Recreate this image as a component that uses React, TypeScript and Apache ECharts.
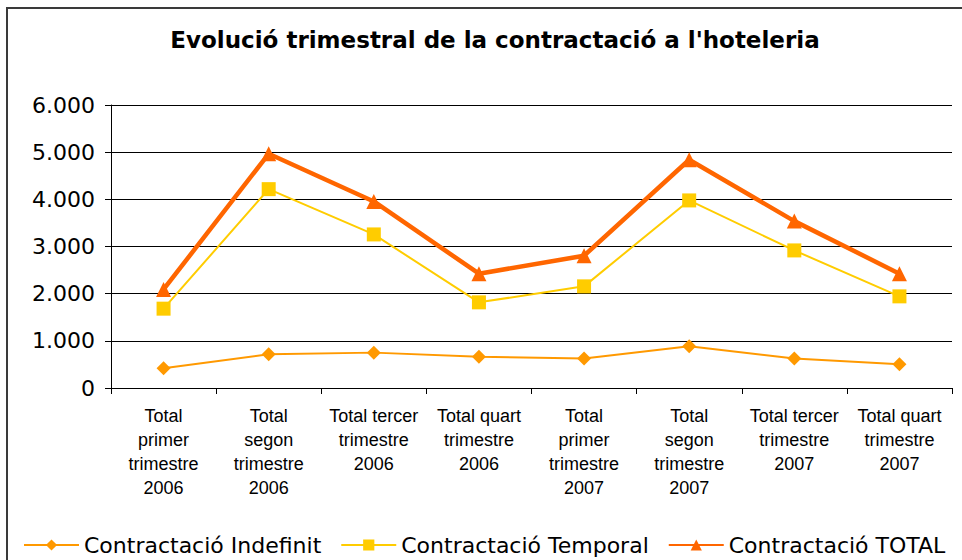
import React, { useEffect, useRef } from "react";
import * as echarts from "echarts";

const categories = [
  "Total\nprimer\ntrimestre\n2006",
  "Total\nsegon\ntrimestre\n2006",
  "Total tercer\ntrimestre\n2006",
  "Total quart\ntrimestre\n2006",
  "Total\nprimer\ntrimestre\n2007",
  "Total\nsegon\ntrimestre\n2007",
  "Total tercer\ntrimestre\n2007",
  "Total quart\ntrimestre\n2007",
];
const indefinit = [417, 714, 750, 665, 623, 883, 623, 502];
const temporal = [1682, 4216, 3256, 1816, 2155, 3977, 2917, 1943];
const total = [2090, 4966, 3955, 2424, 2805, 4839, 3538, 2424];
const seriesNames = ["Contractació Indefinit", "Contractació Temporal", "Contractació TOTAL"];
const titleText = "Evolució trimestral de la contractació a l'hoteleria";

export default function App() {
  const ref = useRef<HTMLDivElement>(null);
  useEffect(() => {
    if (!ref.current) return;
    const chart = echarts.init(ref.current, null, { renderer: "svg" });
    const fmt = (v: number) => String(v).replace(/\B(?=(\d{3})+(?!\d))/g, ".");
    chart.setOption({
      animation: false,
      backgroundColor: "#ffffff",
      title: {
        text: titleText,
        left: 490,
        textAlign: "center",
        top: 23,
        textStyle: { fontFamily: "DejaVu Sans", fontWeight: "bold", fontSize: 23, color: "#000" },
      },
      graphic: [
        {
          type: "rect",
          shape: { x: 7, y: 8, width: 1000, height: 600 },
          style: { fill: "none", stroke: "#3a3a3a", lineWidth: 2 },
          silent: true,
          z: -1,
        },
      ],
      legend: {
        left: 18,
        top: 529,
        itemWidth: 55,
        itemHeight: 14,
        itemGap: 19,
        textStyle: { fontFamily: "DejaVu Sans", fontSize: 22, color: "#000" },
        data: seriesNames,
      },
      grid: { left: 111, right: 10, top: 105, bottom: 172, containLabel: false },
      xAxis: {
        type: "category",
        data: categories,
        boundaryGap: true,
        axisLine: { show: true, lineStyle: { color: "#000", width: 1 } },
        axisTick: { show: true, length: 6, lineStyle: { color: "#000" } },
        axisLabel: {
          interval: 0,
          margin: 16,
          fontFamily: "Liberation Sans",
          fontSize: 18,
          lineHeight: 24,
          color: "#000",
          align: "center",
        },
      },
      yAxis: {
        type: "value",
        min: 0,
        max: 6000,
        interval: 1000,
        axisLine: { show: true, lineStyle: { color: "#000", width: 1 } },
        axisTick: { show: true, length: 6, lineStyle: { color: "#000" } },
        axisLabel: {
          margin: 16,
          fontFamily: "DejaVu Sans",
          fontSize: 22,
          color: "#000",
          formatter: (v: number) => fmt(v),
        },
        splitLine: { show: true, lineStyle: { color: "#000", width: 1 } },
      },
      series: [
        {
          name: seriesNames[0],
          type: "line",
          data: indefinit,
          symbol: "diamond",
          symbolSize: 14,
          itemStyle: { color: "#FF9900" },
          lineStyle: { color: "#FF9900", width: 2 },
          z: 2,
        },
        {
          name: seriesNames[1],
          type: "line",
          data: temporal,
          symbol: "rect",
          symbolSize: 14,
          itemStyle: { color: "#FFCC00" },
          lineStyle: { color: "#FFCC00", width: 2 },
          z: 3,
        },
        {
          name: seriesNames[2],
          type: "line",
          data: total,
          symbol: "triangle",
          symbolSize: 15,
          itemStyle: { color: "#FF6600" },
          lineStyle: { color: "#FF6600", width: 4.5 },
          z: 4,
        },
      ],
    });
    return () => chart.dispose();
  }, []);
  return <div ref={ref} style={{ width: 962, height: 560, position: "absolute", left: 0, top: 0 }} />;
}
